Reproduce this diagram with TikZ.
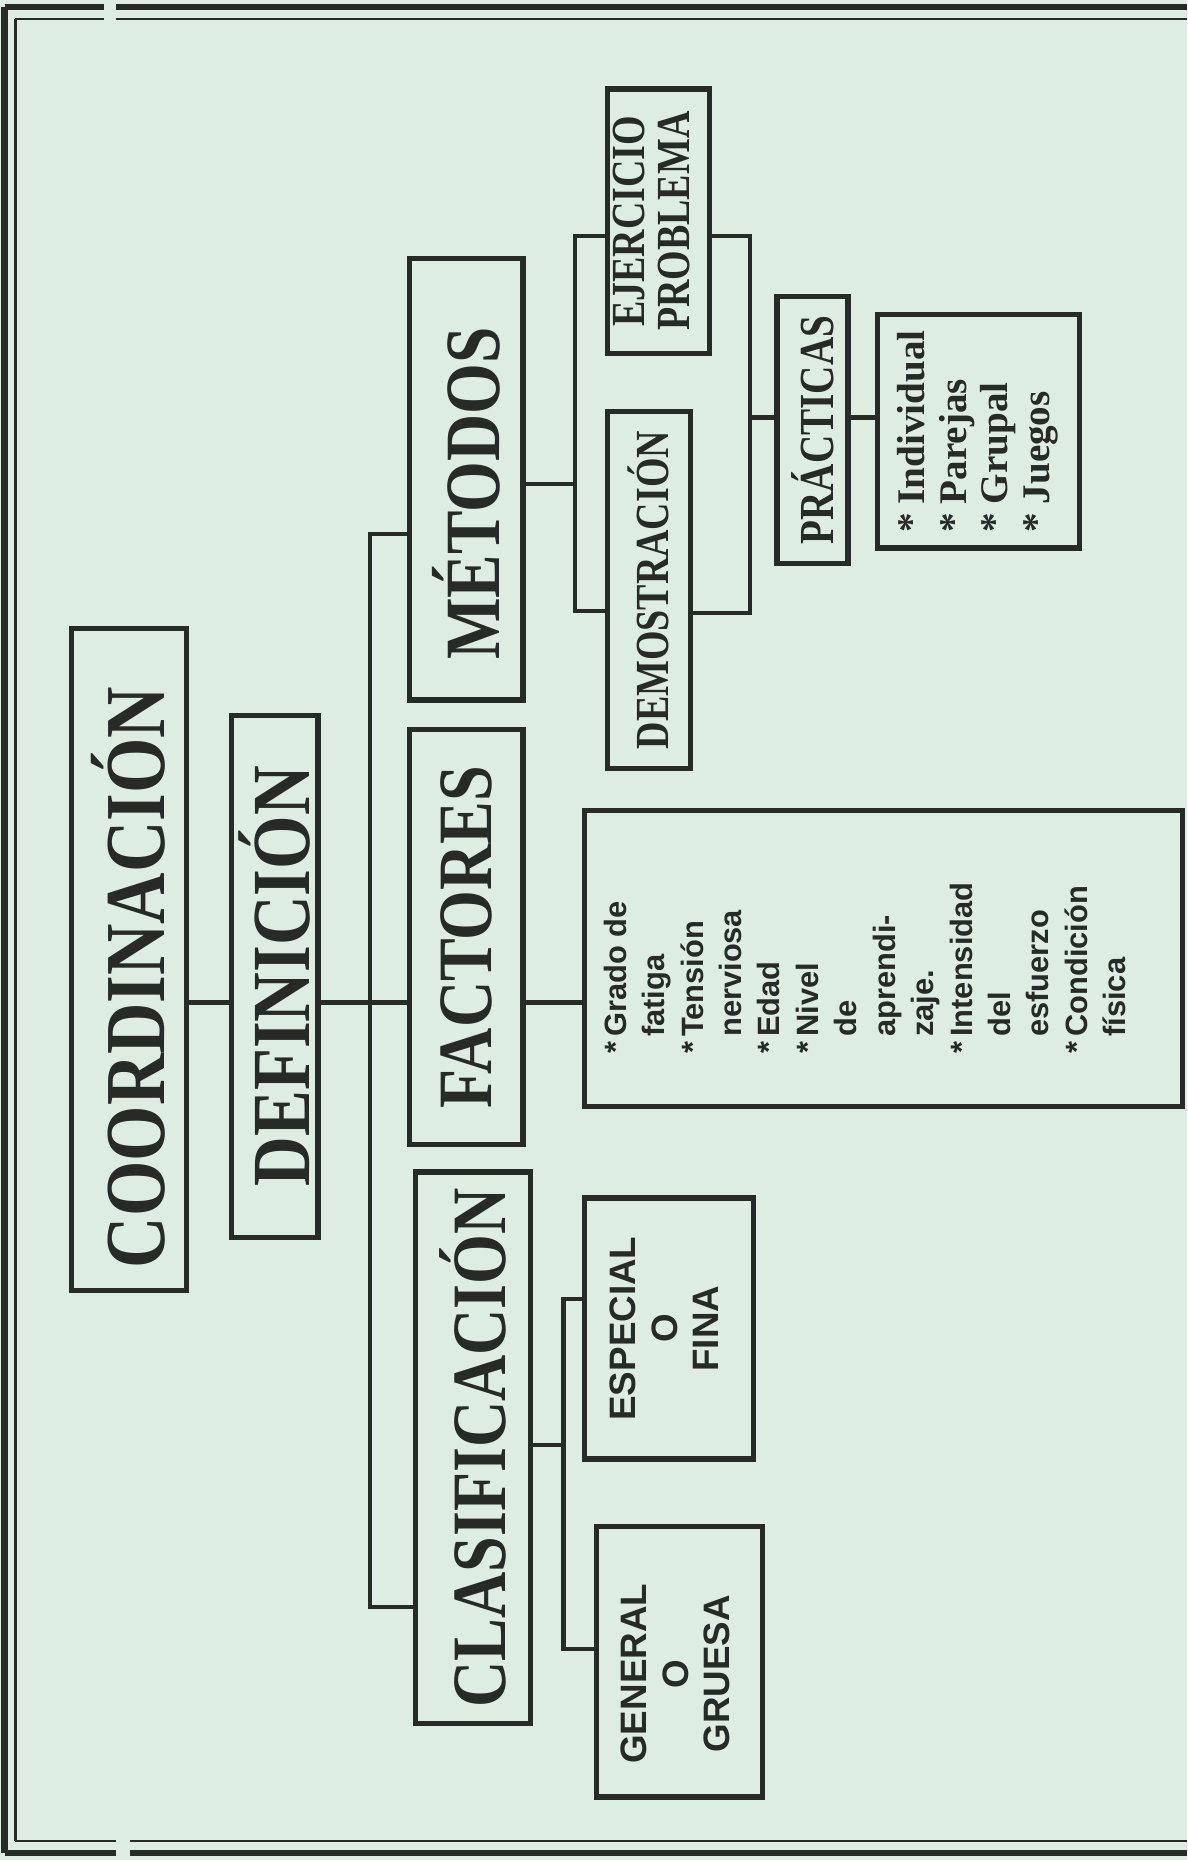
\documentclass[tikz,border=0pt]{standalone}
\usepackage{fontspec}
\setmainfont{Liberation Serif}
\setsansfont{Liberation Sans}
\definecolor{papel}{RGB}{221,237,226}
\definecolor{tinta}{RGB}{40,42,40}
\newcommand{\alto}[2][1.2]{\scalebox{1}[#1]{#2}}

\begin{document}
\begin{tikzpicture}[x=1pt, y=-1pt,
    caja/.style={draw=tinta, line width=4.5pt, inner sep=0pt, text=tinta, font=\bfseries},
    linea/.style={draw=tinta, line width=3.6pt}]
  \fill[papel] (0,0) rectangle (1001,1568);
  \useasboundingbox (0,0) rectangle (1001,1568);

  % marco doble
  \draw[tinta, line width=5.5pt] (4,6) -- (88,6) (98,6) -- (1001,6);
  \draw[tinta, line width=2.2pt] (13,16) -- (88,16) (98,16) -- (1001,16);
  \draw[tinta, line width=5.5pt] (4,6) -- (4,1562);
  \draw[tinta, line width=2.2pt] (13,16) -- (13,1552);
  \draw[tinta, line width=5.5pt] (4,1562) -- (98,1562) (110,1562) -- (1001,1562);
  \draw[tinta, line width=2.2pt] (13,1552) -- (98,1552) (110,1552) -- (1001,1552);

  % cajas principales
  \node[caja, minimum width=97pt, minimum height=558pt] (coordinacion) at (108.5,809)
    {\rotatebox{90}{\alto{\fontsize{60}{60}\selectfont\kern-15pt COORDINACIÓN\kern15pt}}};
  \node[caja, minimum width=73pt, minimum height=440pt] (def) at (231.5,823)
    {\rotatebox{90}{\alto{\fontsize{58}{58}\selectfont DEFINICIÓN}}};
  \node[caja, minimum width=96pt, minimum height=372pt] (met) at (393,404)
    {\rotatebox{90}{\alto{\fontsize{55}{55}\selectfont\kern-12pt MÉTODOS\kern12pt}}};
  \node[caja, minimum width=96pt, minimum height=350pt] (fac) at (393,790)
    {\rotatebox{90}{\alto{\fontsize{54}{54}\selectfont FACTORES}}};
  \node[caja, minimum width=97pt, minimum height=465pt] (clas) at (398.5,1220.5)
    {\rotatebox{90}{\alto{\fontsize{54}{54}\selectfont CLASIFICACIÓN}}};

  % metodos
  \node[caja, minimum width=86pt, minimum height=223pt] (ejer) at (555,186.5)
    {\rotatebox{90}{\fontsize{32}{38}\selectfont\begin{tabular}{@{}c@{}}\alto[1.25]{EJERCICIO}\\\alto[1.25]{PROBLEMA}\end{tabular}}};
  \node[caja, minimum width=70pt, minimum height=301pt] (demo) at (547,497.5)
    {\rotatebox{90}{\alto[1.25]{\fontsize{32}{32}\selectfont DEMOSTRACIÓN}}};
  \node[caja, minimum width=60pt, minimum height=225pt] (prac) at (685,362.5)
    {\rotatebox{90}{\alto[1.25]{\fontsize{33}{33}\selectfont PRÁCTICAS}}};
  \node[caja, minimum width=170pt, minimum height=197pt] (juegos) at (825,363.5)
    {\rotatebox{90}{\fontsize{33}{35}\selectfont\begin{tabular}{@{}l@{\hspace{7pt}}l@{}}
      {*}&Individual\\ {*}&Parejas\\ {*}&Grupal\\ {*}&Juegos\end{tabular}}};

  % factores
  \node[caja, minimum width=504pt, minimum height=250pt] (factlist) at (745,808)
    {\rotatebox{90}{\raisebox{13pt}[\height][\depth]{\kern-8pt\sffamily\fontsize{26}{32.4}\selectfont
      \begin{tabular}{@{}l@{\hspace{4pt}}l@{}}
      {*}&Grado de\\ &fatiga\\ {*}&Tensión\\ &nerviosa\\ {*}&Edad\\ {*}&Nivel\\ &de\\
      &aprendi-\\ &zaje.\\ {*}&Intensidad\\ &del\\ &esfuerzo\\ {*}&Condición\\ &física
      \end{tabular}\kern8pt}}};

  % clasificacion
  \node[caja, minimum width=142pt, minimum height=220pt] (esp) at (564,1120)
    {\rotatebox{90}{\sffamily\fontsize{31}{35}\selectfont\begin{tabular}{@{}c@{}}ESPECIAL\\O\\FINA\end{tabular}}};
  \node[caja, minimum width=140pt, minimum height=228pt] (gen) at (573,1401)
    {\rotatebox{90}{\sffamily\fontsize{31}{35}\selectfont\kern-10pt\begin{tabular}{@{}c@{}}GENERAL\\O\\GRUESA\end{tabular}\kern10pt}};

  % uniones
  \coordinate (eje) at (312,845);
  \coordinate (ltop) at (312,450);
  \coordinate (lbot) at (312,1355);
  \coordinate (mmid) at (485,408);
  \coordinate (mtop) at (485,199);
  \coordinate (mbot) at (485,515);
  \coordinate (rtop) at (632,199);
  \coordinate (rbot) at (632,517);
  \coordinate (rmid) at (632,352);
  \coordinate (cmid) at (475,1218);
  \coordinate (ctop) at (475,1095);
  \coordinate (cbot) at (475,1390);

  \draw[linea] (coordinacion.east |- eje) -- (def.west |- eje);
  \draw[linea] (def.east |- eje) -- (fac.west |- eje);
  \draw[linea] (met.west |- ltop) -- (ltop) -- (lbot) -- (clas.west |- lbot);
  \draw[linea] (fac.east |- eje) -- (factlist.west |- eje);
  \draw[linea] (met.east |- mmid) -- (mmid);
  \draw[linea] (ejer.west |- mtop) -- (mtop) -- (mbot) -- (demo.west |- mbot);
  \draw[linea] (ejer.east |- rtop) -- (rtop) -- (rbot) -- (demo.east |- rbot);
  \draw[linea] (rmid) -- (prac.west |- rmid);
  \draw[linea] (prac.east |- rmid) -- (juegos.west |- rmid);
  \draw[linea] (clas.east |- cmid) -- (cmid);
  \draw[linea] (esp.west |- ctop) -- (ctop) -- (cbot) -- (gen.west |- cbot);
\end{tikzpicture}
\end{document}
